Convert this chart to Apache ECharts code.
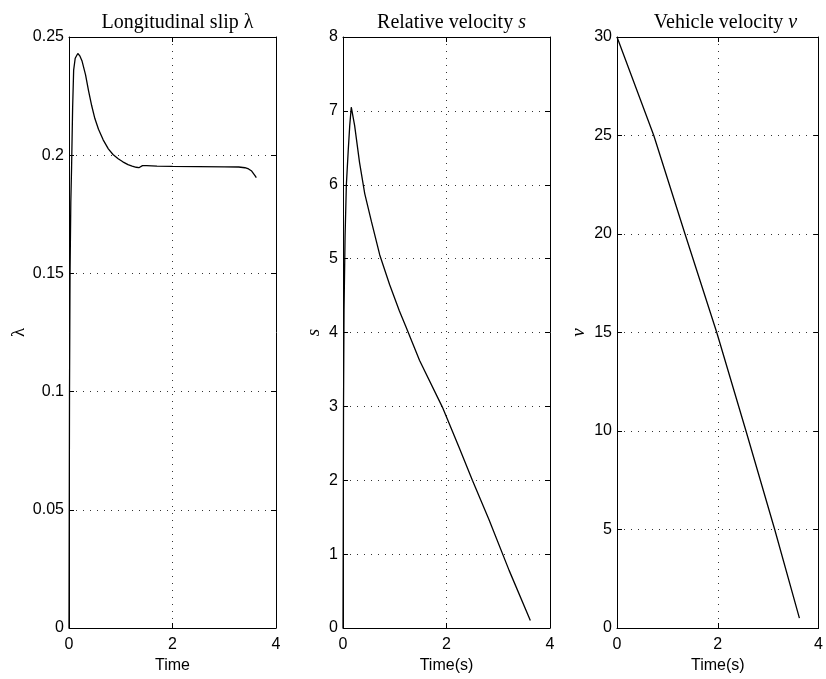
<!DOCTYPE html>
<html>
<head>
<meta charset="utf-8">
<script src="https://cdn.jsdelivr.net/npm/echarts@6/dist/echarts.min.js"></script>
<style>
  html, body { margin: 0; padding: 0; background: #fff; }
  #chart { width: 826px; height: 679px; }
</style>
</head>
<body>
<div id="chart"></div>
<script>
// Longitudinal slip over time
const slipTime = [0, 0.005, 0.01, 0.02, 0.035, 0.05, 0.07, 0.09, 0.12, 0.17, 0.21, 0.25, 0.32, 0.38, 0.44, 0.50, 0.57, 0.66, 0.76, 0.85, 0.95, 1.04, 1.14, 1.22, 1.30, 1.35, 1.38, 1.42, 1.50, 1.70, 2.0, 2.5, 3.0, 3.28, 3.40, 3.47, 3.53, 3.58, 3.62];
const slipValues = [0, 0.05, 0.10, 0.15, 0.18, 0.195, 0.22, 0.236, 0.241, 0.243, 0.242, 0.240, 0.234, 0.227, 0.2208, 0.2155, 0.211, 0.2065, 0.2027, 0.2003, 0.1985, 0.1972, 0.196, 0.1954, 0.1949, 0.1947, 0.1952, 0.1956, 0.1956, 0.1954, 0.1953, 0.1952, 0.1951, 0.1950, 0.1947, 0.1942, 0.1933, 0.1918, 0.1905];

// Relative velocity over time
const relTime = [0, 0.005, 0.01, 0.02, 0.04, 0.065, 0.10, 0.13, 0.16, 0.225, 0.32, 0.42, 0.55, 0.71, 0.90, 1.09, 1.22, 1.48, 1.92, 2.24, 2.50, 2.82, 3.21, 3.62];
const relValues = [0, 1.5, 3.0, 4.3, 5.3, 6.0, 6.45, 6.8, 7.05, 6.80, 6.30, 5.88, 5.50, 5.05, 4.65, 4.29, 4.07, 3.62, 2.99, 2.45, 2.0, 1.47, 0.78, 0.1];

// Vehicle velocity over time
const velTime = [0, 0.73, 1.35, 1.98, 2.56, 3.13, 3.62];
const velValues = [30, 25, 20, 15, 10, 5, 0.5];

// Axis settings
const timeTicks = { min: 0, max: 4, interval: 2 };
const slipTicks = { min: 0, max: 0.25, interval: 0.05 };
const relTicks = { min: 0, max: 8, interval: 1 };
const velTicks = { min: 0, max: 30, interval: 5 };

// Panel titles: plain part + symbol
const titleWords = ['Longitudinal slip ', 'Relative velocity ', 'Vehicle velocity '];
const titleSymbols = ['\u03bb', 's', 'v'];
const xNames = ['Time', 'Time(s)', 'Time(s)'];
const yNames = ['\u03bb', 's', 'v'];

const pairs = (xs, ys) => xs.map((x, i) => [x, ys[i]]);

const panelLeft = [69, 343, 617];
const panelWidth = 207;
const panelTop = 37;
const panelHeight = 597;
const yNameGap = [37, 20, 29];

const sansFont = 'Liberation Sans, Arial, Helvetica, sans-serif';
const serifFont = 'Liberation Serif, Times New Roman, serif';

const gridDots = { show: true, lineStyle: { color: '#333', width: 1, type: [1, 6] } };
const frameLine = { show: true, onZero: false, lineStyle: { color: '#000', width: 1 } };
const innerTick = { show: true, inside: true, length: 5, lineStyle: { color: '#000', width: 1 } };

const yRanges = [slipTicks, relTicks, velTicks];
const seriesData = [pairs(slipTime, slipValues), pairs(relTime, relValues), pairs(velTime, velValues)];

const grid = [], xAxis = [], yAxis = [], series = [], title = [];

for (let i = 0; i < 3; i++) {
  grid.push({ left: panelLeft[i], top: panelTop, width: panelWidth, height: panelHeight, containLabel: false });

  title.push({
    text: '{w|' + titleWords[i] + '}{m|' + titleSymbols[i] + '}',
    left: panelLeft[i] + panelWidth / 2,
    top: 8,
    textAlign: 'center',
    textStyle: {
      fontWeight: 'normal',
      rich: {
        w: { fontFamily: serifFont, fontSize: 20, fontWeight: 'normal', color: '#000' },
        m: { fontFamily: serifFont, fontSize: 20, fontWeight: 'normal', color: '#000', fontStyle: i === 0 ? 'normal' : 'italic' }
      }
    }
  });

  xAxis.push({
    type: 'value', gridIndex: i, position: 'bottom',
    min: timeTicks.min, max: timeTicks.max, interval: timeTicks.interval,
    axisLine: frameLine, axisTick: innerTick,
    axisLabel: { color: '#000', fontFamily: sansFont, fontSize: 16, margin: 9 },
    splitLine: gridDots,
    name: xNames[i], nameLocation: 'middle', nameGap: 30,
    nameTextStyle: { color: '#000', fontFamily: sansFont, fontSize: 16 }
  });
  xAxis.push({
    type: 'value', gridIndex: i, position: 'top',
    min: timeTicks.min, max: timeTicks.max, interval: timeTicks.interval,
    axisLine: frameLine, axisTick: innerTick,
    axisLabel: { show: false }, splitLine: { show: false }
  });

  const yr = yRanges[i];
  yAxis.push({
    type: 'value', gridIndex: i, position: 'left',
    min: yr.min, max: yr.max, interval: yr.interval,
    axisLine: frameLine, axisTick: innerTick,
    axisLabel: { color: '#000', fontFamily: sansFont, fontSize: 16, margin: 5 },
    splitLine: gridDots,
    name: yNames[i], nameLocation: 'middle', nameGap: yNameGap[i],
    nameTextStyle: {
      color: '#000', fontFamily: serifFont, fontSize: 19,
      fontStyle: i === 0 ? 'normal' : 'italic'
    }
  });
  yAxis.push({
    type: 'value', gridIndex: i, position: 'right',
    min: yr.min, max: yr.max, interval: yr.interval,
    axisLine: frameLine, axisTick: innerTick,
    axisLabel: { show: false }, splitLine: { show: false }
  });

  series.push({
    type: 'line', xAxisIndex: 2 * i, yAxisIndex: 2 * i,
    data: seriesData[i], showSymbol: false, symbol: 'none',
    lineStyle: { color: '#000', width: 1.3 }, animation: false
  });
}

const chart = echarts.init(document.getElementById('chart'), null, { renderer: 'canvas' });
chart.setOption({
  backgroundColor: '#fff',
  animation: false,
  title, grid, xAxis, yAxis, series
});
</script>
</body>
</html>
